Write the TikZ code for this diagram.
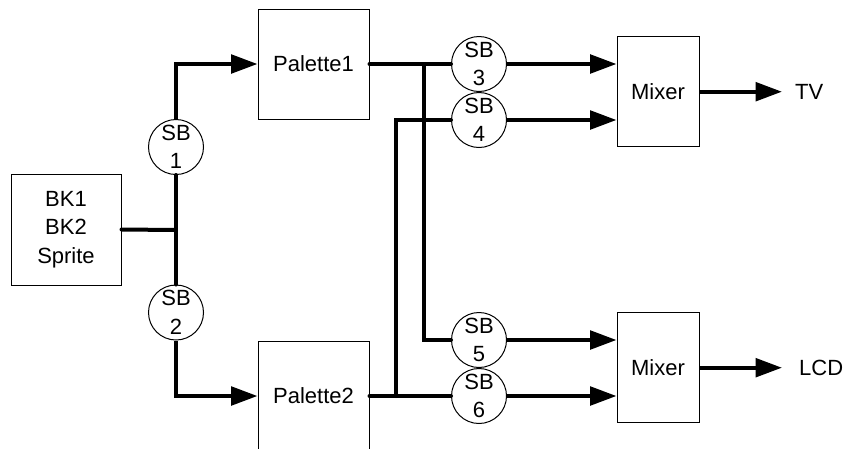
\documentclass[tikz,border=0pt]{standalone}
\usepackage{fontspec}
\setmainfont{Liberation Sans}
\usetikzlibrary{arrows.meta}
\begin{document}
\begin{tikzpicture}[x=1pt,y=-1pt,
  every node/.style={font=\fontsize{22}{28.5}\selectfont},
  blk/.style={draw,line width=1pt,rectangle,align=center,inner sep=0pt},
  sbc/.style={draw,line width=1pt,circle,fill=white,minimum size=55pt,inner sep=0pt,align=center},
  wire/.style={line width=4pt,line cap=round},
  arr/.style={line width=4pt,-{Triangle[length=26.5pt,width=18.5pt]}}]
\useasboundingbox (0,0) rectangle (845,448);
\node[blk,minimum width=110pt,minimum height=111pt] (bk) at (66,229.5) {BK1\\BK2\\Sprite};
\node[blk,minimum width=111pt,minimum height=110pt] (p1) at (313.5,64) {Palette1};
\node[blk,minimum width=111pt,minimum height=110pt] (p2) at (313.5,396) {Palette2};
\node[blk,minimum width=82pt,minimum height=110pt] (m1) at (658,91.7) {Mixer};
\node[blk,minimum width=82pt,minimum height=110pt] (m2) at (658,367.7) {Mixer};
\node[sbc] (sb1) at (176,147) {SB\\1};
\node[sbc] (sb2) at (176,312.5) {SB\\2};
\node[sbc] (sb3) at (479,64) {SB\\3};
\node[sbc] (sb4) at (479,120) {SB\\4};
\node[sbc] (sb5) at (479,340) {SB\\5};
\node[sbc] (sb6) at (479,396) {SB\\6};
\node[anchor=west,inner sep=0pt] (tv) at (795,91.7) {TV};
\node[anchor=west,inner sep=0pt] (lcd) at (799,367.7) {LCD};
\coordinate (j) at (176,230);
\coordinate (j3) at (424,64);
\coordinate (j6) at (396,396);
\coordinate (t1) at (782,91.7);
\coordinate (t2) at (782,367.7);
\draw[wire] (bk.east) -- (j);
\draw[wire] (sb1.south) -- (sb2.north);
\draw[arr] (sb1.north) |- (p1.west);
\draw[arr] (sb2.south) |- (p2.west);
\draw[wire] (p1.east) -- (sb3.west);
\draw[wire] (p2.east) -- (sb6.west);
\draw[wire] (j3) |- (sb5.west);
\draw[wire] (j6) |- (sb4.west);
\draw[arr] (sb3.east) -- (m1.west |- sb3.east);
\draw[arr] (sb4.east) -- (m1.west |- sb4.east);
\draw[arr] (sb5.east) -- (m2.west |- sb5.east);
\draw[arr] (sb6.east) -- (m2.west |- sb6.east);
\draw[arr] (m1.east) -- (t1);
\draw[arr] (m2.east) -- (t2);
\end{tikzpicture}
\end{document}
